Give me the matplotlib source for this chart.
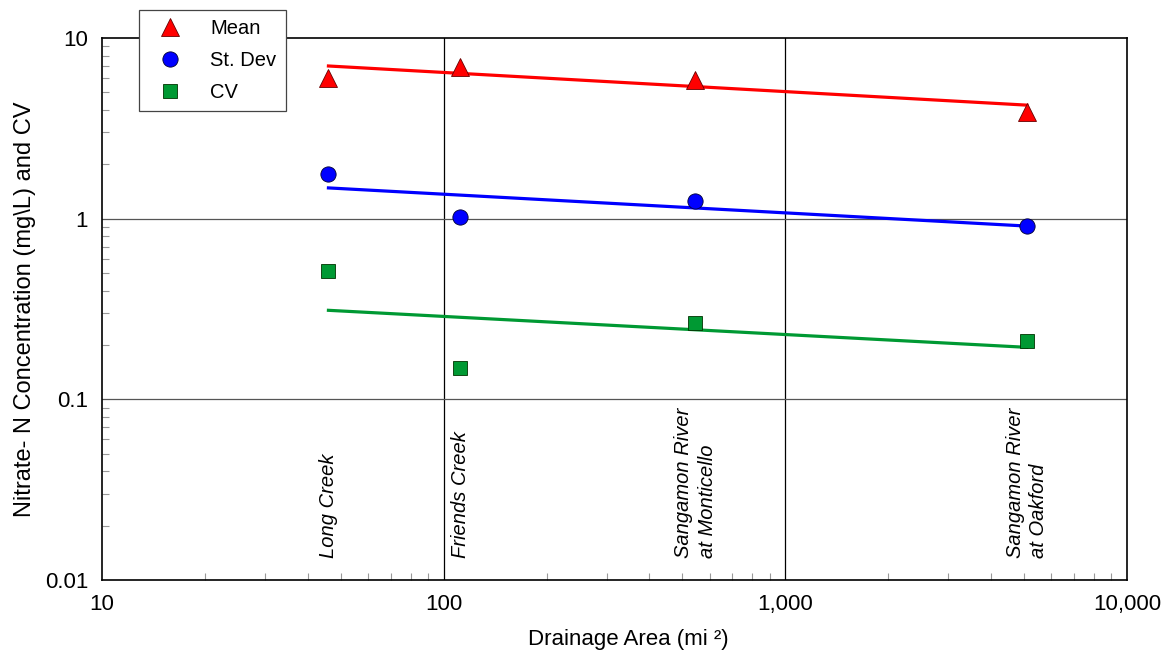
import numpy as np
import matplotlib.pyplot as plt
from matplotlib.ticker import LogLocator, NullFormatter

plt.rcParams['font.family'] = ['Liberation Sans', 'DejaVu Sans']

# drainage area of each site (mi^2)
sites = ['Long Creek', 'Friends Creek', 'Sangamon River\nat Monticello', 'Sangamon River\nat Oakford']
area = [46, 112, 545, 5090]

mean = [6.0, 6.9, 5.85, 3.9]
stdev = [1.77, 1.02, 1.25, 0.91]
cv = [0.51, 0.149, 0.264, 0.21]

# trend lines, values at first and last site
trend_x = [46, 5090]
mean_fit = [7.0, 4.25]
stdev_fit = [1.48, 0.91]
cv_fit = [0.311, 0.194]

fig = plt.figure(figsize=(11.7, 6.59), dpi=100)
ax = fig.add_axes([102 / 1170, 1 - 580 / 659, 1025 / 1170, 542 / 659])
ax.set_xscale('log')
ax.set_yscale('log')
ax.set_xlim(10, 10000)
ax.set_ylim(0.01, 10)

for x in [100, 1000]:
    ax.axvline(x, color='black', lw=0.9, zorder=1)
for y in [0.1, 1]:
    ax.axhline(y, color='#555555', lw=0.9, zorder=1)

ax.plot(trend_x, mean_fit, color='#ff0000', lw=2.3, zorder=2)
ax.plot(trend_x, stdev_fit, color='#0000ff', lw=2.3, zorder=2)
ax.plot(trend_x, cv_fit, color='#009933', lw=2.3, zorder=2)

ax.plot(area, mean, ls='none', marker='^', ms=13, mfc='#ff0000', mec='#660000', mew=0.6, label='Mean', zorder=3)
ax.plot(area, stdev, ls='none', marker='o', ms=11, mfc='#0000ff', mec='#000033', mew=0.6, label='St. Dev', zorder=3)
ax.plot(area, cv, ls='none', marker='s', ms=10.5, mfc='#009933', mec='#003300', mew=0.6, label='CV', zorder=3)

for x, name in zip(area, sites):
    ax.text(x, 0.0133, name, rotation=90, style='italic', fontsize=14.5,
            ha='center', va='bottom', multialignment='left', linespacing=1.3)

ax.set_xticks([10, 100, 1000, 10000])
ax.set_xticklabels(['10', '100', '1,000', '10,000'])
ax.set_yticks([0.01, 0.1, 1, 10])
ax.set_yticklabels(['0.01', '0.1', '1', '10'])
ax.xaxis.set_minor_locator(LogLocator(base=10, subs=np.arange(2, 10)))
ax.yaxis.set_minor_locator(LogLocator(base=10, subs=np.arange(2, 10)))
ax.xaxis.set_minor_formatter(NullFormatter())
ax.yaxis.set_minor_formatter(NullFormatter())
ax.tick_params(which='major', length=0, labelsize=16)
ax.tick_params(axis='x', which='major', pad=10)
ax.tick_params(axis='y', which='major', pad=10)
ax.tick_params(which='minor', direction='in', length=5, color='#999999', width=0.8)

for s in ax.spines.values():
    s.set_linewidth(1.2)

ax.set_xlabel('Drainage Area (mi \u00b2)', fontsize=16)
ax.xaxis.set_label_coords((628 - 102) / 1025, -(640 - 580) / 542)
ax.xaxis.label.set_va('center')
ax.set_ylabel('Nitrate- N Concentration (mg\\L) and CV', fontsize=17, labelpad=6)

leg = ax.legend(loc='upper left', bbox_to_anchor=(37 / 1025, 1 + 28 / 542), fontsize=14.5,
                frameon=True, fancybox=False, edgecolor='#444444', framealpha=1,
                handletextpad=0.9, handlelength=2.2, labelspacing=0.65, borderpad=0.45,
                borderaxespad=0)
leg.get_frame().set_linewidth(0.9)
leg.set_zorder(5)

fig.savefig('out.png', dpi=100)
